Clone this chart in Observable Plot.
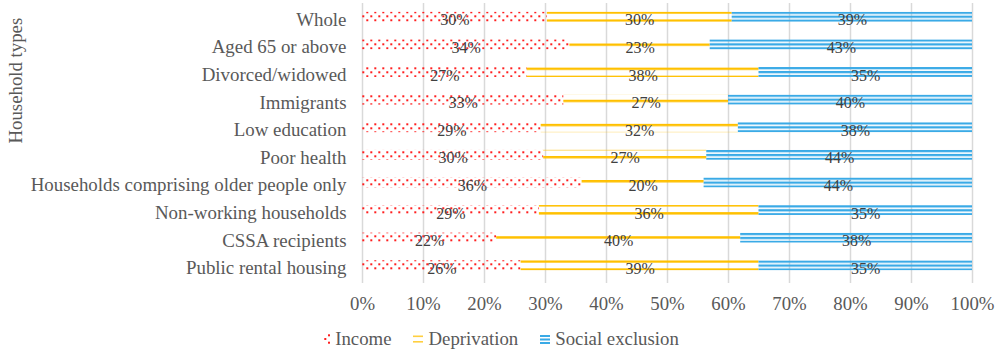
<!DOCTYPE html>
<html>
<head>
<meta charset="utf-8">
<script src="https://cdn.jsdelivr.net/npm/d3@7"></script>
<script src="https://cdn.jsdelivr.net/npm/@observablehq/plot@0.6"></script>
<style>
  html, body { margin: 0; padding: 0; background: #fff; }
  #chart { width: 1003px; }
  .legend {
    display: flex; justify-content: center; align-items: center; gap: 22px;
    margin-top: 10px; height: 22px;
    font-family: "Liberation Serif", "Times New Roman", Times, "DejaVu Serif", serif;
    font-size: 18.8px; color: #595959;
  }
  .legend .item { display: flex; align-items: center; }
  .legend svg { margin-right: 5px; }
  #defs { position: absolute; width: 0; height: 0; overflow: hidden; }
</style>
</head>
<body>
<!-- fill patterns shared by the bars -->
<svg id="defs" width="0" height="0">
  <defs>
    <pattern id="p-income" patternUnits="userSpaceOnUse" x="6.3" y="11.3" width="8" height="8">
      <rect x="0" y="0" width="2" height="2" fill="#ff1f1f"></rect>
      <rect x="4" y="4" width="2" height="2" fill="#ff1f1f"></rect>
    </pattern>
    <pattern id="p-dep" patternUnits="userSpaceOnUse" x="0" y="11.4" width="8" height="8.03">
      <rect x="0" y="0" width="8" height="2.4" fill="#ffc000"></rect>
    </pattern>
    <pattern id="p-excl" patternUnits="userSpaceOnUse" x="0" y="11.7" width="8" height="3.95">
      <rect x="0" y="0" width="8" height="2.3" fill="#3aaae6"></rect>
    </pattern>
  </defs>
</svg>
<div id="chart"></div>
<script>
// Share of each household type by dimension of poverty (percent)
const categories = [
  "Whole",
  "Aged 65 or above",
  "Divorced/widowed",
  "Immigrants",
  "Low education",
  "Poor health",
  "Households comprising older people only",
  "Non-working households",
  "CSSA recipients",
  "Public rental housing"
];
const income       = [30, 34, 27, 33, 29, 30, 36, 29, 22, 26];
const deprivation  = [30, 23, 38, 27, 32, 27, 20, 36, 40, 39];
const exclusion    = [39, 43, 35, 40, 38, 44, 44, 35, 38, 35];
const seriesNames  = ["Income", "Deprivation", "Social exclusion"];
const seriesFills  = ["url(#p-income)", "url(#p-dep)", "url(#p-excl)"];
const xTicks       = [0, 0.1, 0.2, 0.3, 0.4, 0.5, 0.6, 0.7, 0.8, 0.9, 1];
const axisTitle    = "Household types";

const seriesValues = [income, deprivation, exclusion];
const rows = categories.flatMap((type, i) =>
  seriesNames.map((series, s) => ({type, series, value: seriesValues[s][i]}))
);

const stack = (opts) => Plot.stackX({
  x: "value", y: "type", z: "series",
  offset: "normalize", order: seriesNames, ...opts
});

const serif = '"Liberation Serif", "Times New Roman", Times, "DejaVu Serif", serif';

const chart = Plot.plot({
  width: 1003,
  height: 318,
  marginLeft: 362,
  marginRight: 31,
  marginTop: 3,
  marginBottom: 39,
  style: {
    fontFamily: serif,
    fontSize: "18.8px",
    color: "#595959",
    background: "transparent"
  },
  x: {domain: [0, 1], label: null},
  y: {domain: categories, paddingInner: 0.64, paddingOuter: 0.32, round: false, label: null},
  color: {domain: seriesNames, range: seriesFills},
  marks: [
    Plot.gridX({ticks: xTicks, stroke: "#d9d9d9", strokeOpacity: 1, strokeWidth: 1.5, insetBottom: -4}),
    Plot.axisX({ticks: xTicks, tickFormat: d3.format(".0%"), tickSize: 0, tickPadding: 17, label: null, fontFamily: serif}),
    Plot.axisY({tickSize: 0, tickPadding: 16, dy: 2.5, label: null, fontFamily: serif, fontSize: 18.9}),
    Plot.barX(rows, stack({fill: "series"})),
    Plot.text(rows, stack({
      text: d => d.value + "%",
      fill: "#404040",
      fontSize: 16,
      fontFamily: serif,
      dy: 3
    })),
    Plot.text([axisTitle], {
      text: d => d,
      frameAnchor: "left",
      rotate: -90,
      dx: -347,
      dy: 2,
      fill: "#595959",
      fontFamily: serif
    })
  ]
});
document.getElementById("chart").append(chart);

// legend below the chart
const legend = d3.select("#chart").append("div").attr("class", "legend");
const swatches = {
  "Income": (g) => {
    g.attr("width", 6).attr("height", 12);
    [[0.3, 5], [4, 1.3], [4, 8.7]].forEach(([x, y]) =>
      g.append("rect").attr("x", x).attr("y", y).attr("width", 2).attr("height", 2).attr("fill", "#ff1f1f"));
  },
  "Deprivation": (g) => {
    g.attr("width", 10).attr("height", 12);
    [2.5, 8].forEach(y =>
      g.append("rect").attr("x", 0).attr("y", y).attr("width", 10).attr("height", 1.6).attr("fill", "#ffcf40"));
  },
  "Social exclusion": (g) => {
    g.attr("width", 10).attr("height", 12);
    [2, 5.5, 9].forEach(y =>
      g.append("rect").attr("x", 0).attr("y", y).attr("width", 10).attr("height", 2).attr("fill", "#3aaae6"));
  }
};
seriesNames.forEach(name => {
  const item = legend.append("div").attr("class", "item");
  swatches[name](item.append("svg"));
  item.append("span").text(name);
});
</script>
</body>
</html>
